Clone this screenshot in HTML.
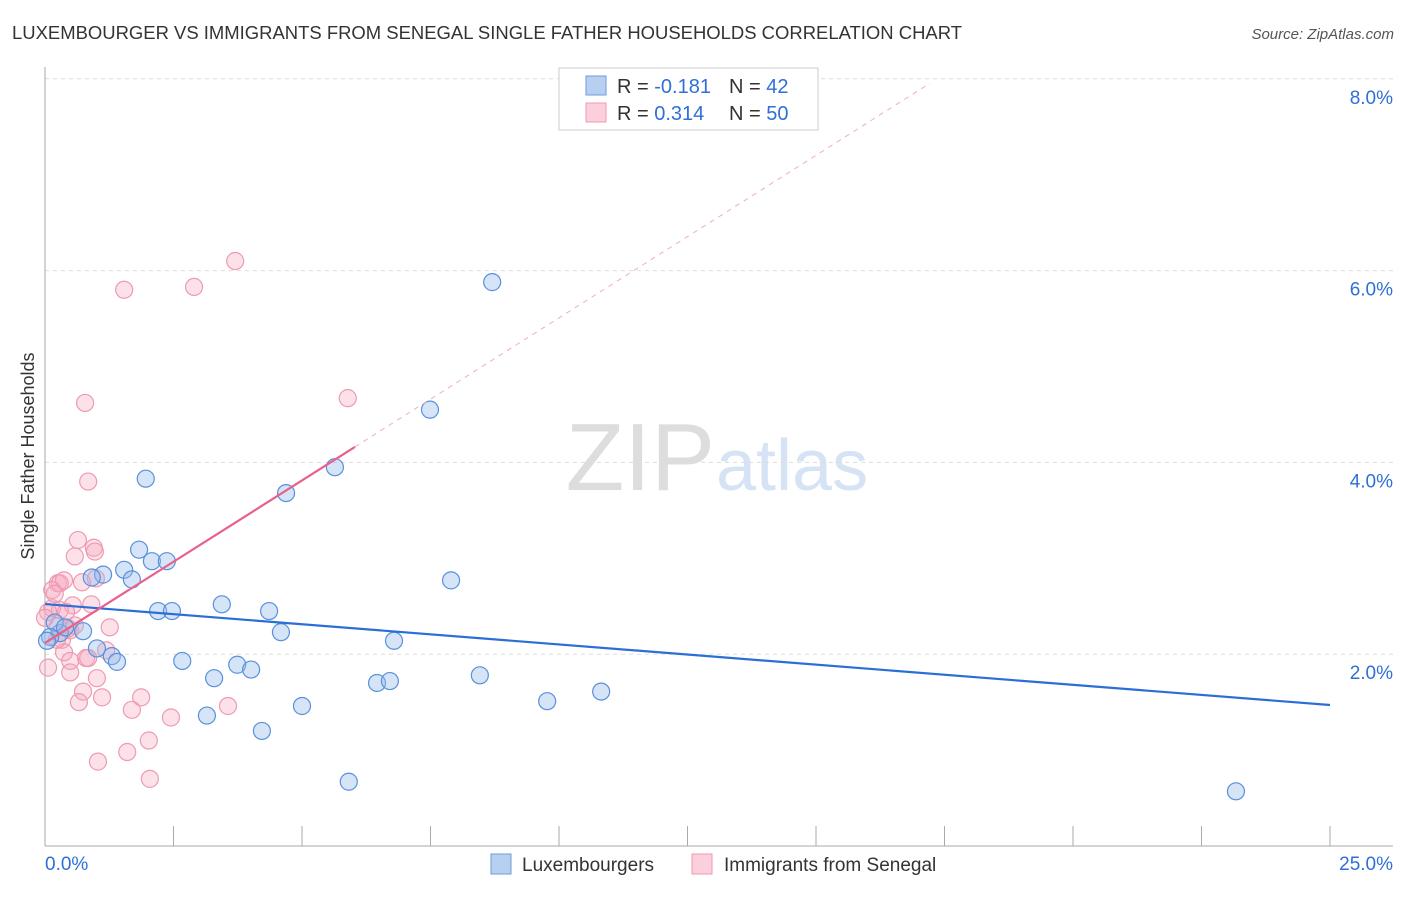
<!DOCTYPE html>
<html><head><meta charset="utf-8"><style>
body{margin:0;background:#fff;font-family:"Liberation Sans",sans-serif}
svg text{font-family:"Liberation Sans",sans-serif}
</style></head><body>
<svg id="c" width="1406" height="892" xmlns="http://www.w3.org/2000/svg">
<text x="12" y="39" font-size="18" fill="#333" textLength="950" lengthAdjust="spacingAndGlyphs">LUXEMBOURGER VS IMMIGRANTS FROM SENEGAL SINGLE FATHER HOUSEHOLDS CORRELATION CHART</text>
<text x="1394" y="39" font-size="15" fill="#555" font-style="italic" text-anchor="end">Source: ZipAtlas.com</text>
<text x="34" y="456" font-size="18" fill="#333" text-anchor="middle" transform="rotate(-90 34 456)">Single Father Households</text>
<text x="715" y="490" font-size="96" fill="#ddd" text-anchor="end" font-family="Liberation Serif">ZIP</text>
<text x="716" y="490" font-size="72" fill="#d6e3f5">atlas</text>
<g id="grid"></g><g id="pts"></g><g id="lines"></g>
<g>
<rect x="559" y="68" width="259" height="62" fill="#fff" stroke="#ccc"/>
<rect x="586" y="76" width="20" height="19" fill="#b8d0f0" stroke="#6a9ce0"/>
<rect x="586" y="103" width="20" height="19" fill="#fbd0dc" stroke="#ee9ab2"/>
<text x="617" y="93" font-size="20" fill="#333">R = <tspan fill="#2f6fd8">-0.181</tspan></text>
<text x="729" y="93" font-size="20" fill="#333">N = <tspan fill="#2f6fd8">42</tspan></text>
<text x="617" y="120" font-size="20" fill="#333">R = <tspan fill="#2f6fd8"> 0.314</tspan></text>
<text x="729" y="120" font-size="20" fill="#333">N = <tspan fill="#2f6fd8">50</tspan></text>
</g>
<g>
<rect x="491" y="854" width="20" height="20" fill="#b8d0f0" stroke="#6a9ce0"/>
<text x="522" y="871" font-size="19" fill="#333">Luxembourgers</text>
<rect x="692" y="854" width="20" height="20" fill="#fbd0dc" stroke="#ee9ab2"/>
<text x="724" y="871" font-size="19" fill="#333">Immigrants from Senegal</text>
</g>
</svg>
<script>
const yTicks=[2,4,6,8];
const xTicks=[0,2.5,5,7.5,10,12.5,15,17.5,20,22.5,25];
const xLabels=["0.0%","25.0%"];
const blueX=[8.70,7.49,5.64,4.69,1.96,1.83,2.08,2.37,1.54,1.13,0.91,1.69,7.90,3.44,2.20,2.47,4.36,4.59,6.79,0.74,0.29,0.19,0.10,0.04,1.01,1.30,1.40,2.67,3.74,4.01,3.29,6.46,6.71,8.46,10.82,9.77,5.00,3.15,4.22,5.91,23.17,0.39];
const blueY=[5.88,4.55,3.95,3.68,3.83,3.09,2.97,2.97,2.88,2.83,2.80,2.78,2.77,2.52,2.45,2.45,2.45,2.23,2.14,2.24,2.22,2.33,2.18,2.14,2.06,1.98,1.92,1.93,1.89,1.84,1.75,1.70,1.72,1.78,1.61,1.51,1.46,1.36,1.20,0.67,0.57,2.28];
const pinkX=[3.70,2.90,1.54,0.78,5.89,0.84,0.64,0.95,0.97,0.58,0.25,0.29,0.72,0.99,0.14,0.54,0.90,0.14,0.29,0.41,0.06,1.26,0.25,0.49,0.33,1.19,0.37,0.49,0.80,0.84,0.06,0.49,1.01,0.74,1.87,0.66,1.11,1.69,3.56,2.45,2.02,1.60,1.03,2.04,0.45,0.23,0.00,0.58,0.19,0.37];
const pinkY=[6.10,5.83,5.80,4.62,4.67,3.80,3.19,3.11,3.07,3.02,2.74,2.74,2.75,2.79,2.67,2.51,2.52,2.48,2.46,2.44,2.44,2.28,2.29,2.25,2.15,2.04,2.02,1.93,1.96,1.96,1.86,1.81,1.75,1.61,1.55,1.50,1.55,1.42,1.46,1.34,1.10,0.98,0.88,0.70,2.27,2.15,2.38,2.30,2.63,2.77];
const X=v=>45+v/25*1285, Y=v=>846-v*95.9;
const NS="http://www.w3.org/2000/svg";
function mk(t,a,p){const e=document.createElementNS(NS,t);for(const k in a)e.setAttribute(k,a[k]);p.appendChild(e);return e;}
const g=document.getElementById('grid');
yTicks.forEach(t=>{const l=mk('line',{x1:45,x2:1393,y1:Y(t),y2:Y(t),stroke:'#ddd','stroke-dasharray':'4 4'},g);


const tx=mk('text',{x:1393,y:Y(t)+25,'font-size':19,fill:'#2f6fd8','text-anchor':'end'},g);tx.textContent=t.toFixed(1)+'%';

});
mk('line',{x1:45,x2:45,y1:67,y2:846,stroke:'#aaa'},g);
mk('line',{x1:45,x2:1393,y1:846,y2:846,stroke:'#aaa'},g);
xTicks.forEach(t=>{const l=mk('line',{x1:X(t),x2:X(t),y1:826,y2:846,stroke:'#aaa'},g);

});
const a=mk('text',{x:45,y:870,'font-size':19,fill:'#2f6fd8'},g);a.textContent=xLabels[0];


const b=mk('text',{x:1393,y:870,'font-size':19,fill:'#2f6fd8','text-anchor':'end'},g);b.textContent=xLabels[1];


const p=document.getElementById('pts');
pinkX.forEach((x,i)=>{const c=mk('circle',{cx:X(x),cy:Y(pinkY[i]),r:8.5,fill:'rgba(247,170,192,0.35)',stroke:'#ee9ab2','stroke-width':1.2},p);

});
blueX.forEach((x,i)=>{const c=mk('circle',{cx:X(x),cy:Y(blueY[i]),r:8.5,fill:'rgba(150,188,236,0.4)',stroke:'#5a90dc','stroke-width':1.2},p);

});
const L=document.getElementById('lines');
const bl=mk('line',{x1:X(0),y1:Y(2.523),x2:X(25),y2:Y(1.470),stroke:'#2a6fd6','stroke-width':2.2},L);


const ps=0.339,p0=2.117;
const pl=mk('line',{x1:X(0),y1:Y(p0),x2:X(6.03),y2:Y(p0+ps*6.03),stroke:'#e8608c','stroke-width':2.2},L);


const pd=mk('line',{x1:X(6.03),y1:Y(p0+ps*6.03),x2:X(17.22),y2:Y(p0+ps*17.22),stroke:'#eab0c0','stroke-width':1,'stroke-dasharray':'5 5'},L);


</script>
</body></html>
